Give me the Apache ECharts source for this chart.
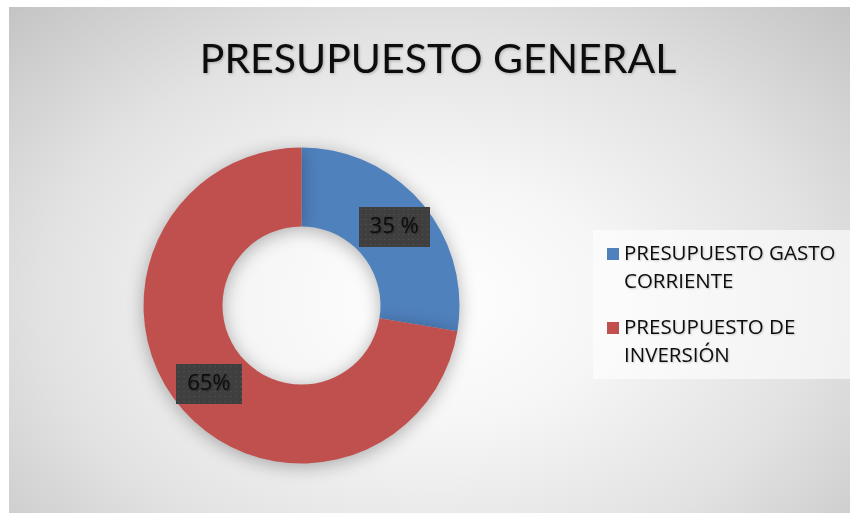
<!DOCTYPE html>
<html>
<head>
    <meta charset="utf-8">
    <title>Presupuesto General</title>
    <script src="https://cdn.jsdelivr.net/npm/echarts@6/dist/echarts.min.js"></script>
    <style>
        html, body { margin: 0; padding: 0; background: #fff; }
        #main {
            position: absolute; left: 9px; top: 7px; width: 841px; height: 506px;
            background: radial-gradient(ellipse at 50% 58%, #ffffff 0%, #f6f6f6 30%, #e2e2e2 65%, #c4c4c4 100%);
        }
    </style>
</head>
<body>
    <div id="main"></div>
    <script type="text/javascript">
        // datos
        var categorias = ['PRESUPUESTO GASTO\nCORRIENTE', 'PRESUPUESTO DE\nINVERSIÓN'];
        var valores = [27.6, 72.4];            // proporción según el tamaño de cada sector
        var etiquetas = ['35 %', '65%'];
        var colores = ['#4f81bd', '#c0504d'];

        // fondo punteado de las etiquetas
        function patron(w, h) {
            var c = document.createElement('canvas');
            c.width = w; c.height = h;
            var ctx = c.getContext('2d');
            ctx.fillStyle = '#3f3f3f';
            ctx.fillRect(0, 0, w, h);
            ctx.fillStyle = '#595959';
            for (var y = 2; y < h; y += 5)
                for (var x = 2; x < w; x += 5)
                    ctx.fillRect(x, y, 1, 1);
            return c;
        }

        var myChart = echarts.init(document.getElementById('main'));

        var datos = categorias.map(function (n, i) {
            return {
                name: n,
                value: valores[i],
                itemStyle: { color: colores[i] },
                label: { backgroundColor: { image: patron(i === 0 ? 75 : 63, 40) } }
            };
        });

        function leyenda(nombre, top) {
            return {
                data: [nombre],
                orient: 'vertical',
                left: 598,
                top: top,
                padding: 0,
                icon: 'rect',
                itemWidth: 12,
                itemHeight: 12,
                itemGap: 0,
                selectedMode: false,
                // línea vacía delante para que el cuadro quede junto a la primera línea
                formatter: function (n) { return '\n' + n; },
                textStyle: {
                    fontFamily: 'Open Sans',
                    fontSize: 20.5,
                    lineHeight: 28,
                    color: '#0d0d0d',
                    textShadowColor: 'rgba(0,0,0,0.2)',
                    textShadowBlur: 2,
                    textShadowOffsetX: 1,
                    textShadowOffsetY: 1
                }
            };
        }

        var option = {
            backgroundColor: 'transparent',
            animation: false,
            title: {
                text: 'PRESUPUESTO GENERAL',
                left: 429,
                top: 32,
                padding: 0,
                textAlign: 'center',
                textStyle: {
                    fontFamily: 'Lato',
                    fontWeight: 'normal',
                    fontSize: 41,
                    color: '#0d0d0d',
                    textShadowColor: 'rgba(0,0,0,0.25)',
                    textShadowBlur: 3,
                    textShadowOffsetX: 1,
                    textShadowOffsetY: 1
                }
            },
            graphic: [{
                type: 'rect',
                left: 584, top: 223, z: -1,
                shape: { width: 257, height: 149 },
                style: { fill: 'rgba(255,255,255,0.6)' }
            }],
            legend: [leyenda(categorias[0], 205), leyenda(categorias[1], 279)],
            series: [
            {
                type: 'pie',
                center: [292.5, 298.5],
                radius: [79, 158],
                startAngle: 90,
                clockwise: true,
                silent: true,
                itemStyle: {
                    shadowBlur: 18,
                    shadowColor: 'rgba(0,0,0,0.3)',
                    shadowOffsetY: 3
                },
                label: {
                    show: true,
                    position: 'inside',
                    formatter: function (p) { return etiquetas[p.dataIndex]; },
                    fontFamily: 'Open Sans',
                    fontSize: 22,
                    lineHeight: 24,
                    color: '#0d0d0d',
                    padding: [8, 11],
                    shadowBlur: 6,
                    shadowColor: 'rgba(0,0,0,0.5)',
                    shadowOffsetX: 3,
                    shadowOffsetY: 3,
                    textShadowBlur: 2,
                    textShadowColor: 'rgba(0,0,0,0.4)',
                    textShadowOffsetX: 1,
                    textShadowOffsetY: 1
                },
                labelLine: { show: false },
                data: datos
            }
            ]
        };
        myChart.setOption(option);
    </script>
</body>
</html>
